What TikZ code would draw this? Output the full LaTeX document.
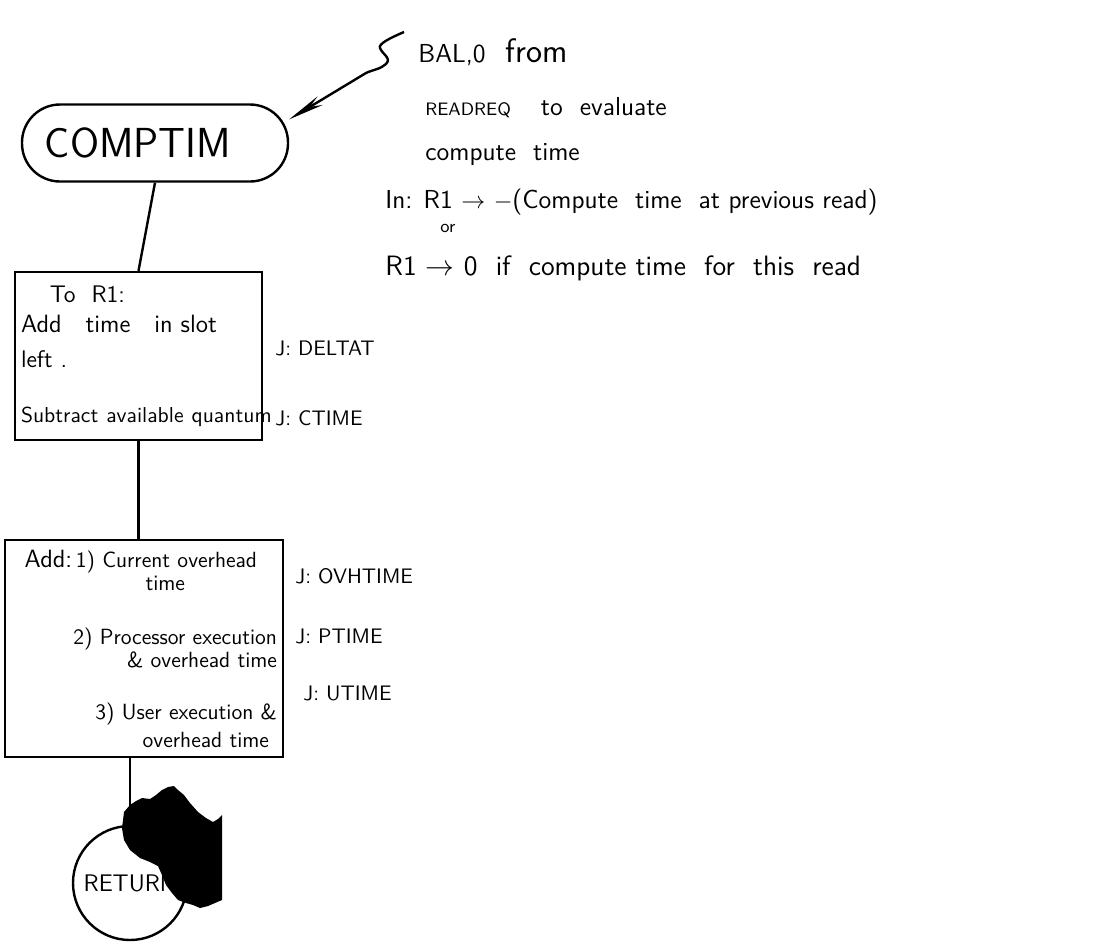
\documentclass[tikz,border=0pt]{standalone}
\usepackage{tikz}
\usetikzlibrary{arrows.meta,shapes,positioning}
\tikzset{
  basic/.style    = {draw, line width=1.2pt, font=\sffamily},
  terminal/.style = {basic, rectangle, rounded corners=19pt, minimum width=133pt,
                     minimum height=38.5pt, text width=110pt, inner xsep=11pt, align=left,
                     font=\sffamily\fontsize{21}{24}\selectfont},
  process/.style  = {basic, rectangle, inner xsep=3pt, inner ysep=0pt,
                     font=\sffamily\fontsize{12}{15}\selectfont},
  finish/.style   = {basic, circle, inner sep=1pt, minimum size=57pt,
                     font=\sffamily\fontsize{12}{14}\selectfont},
  jlabel/.style   = {anchor=base west, inner sep=0pt, font=\sffamily\fontsize{10.5}{12}\selectfont},
  remark/.style   = {anchor=base west, inner sep=0pt, font=\sffamily\fontsize{13}{15}\selectfont}
}

\begin{document}
\begin{tikzpicture}[x=0.5pt, y=-0.5pt]
\useasboundingbox (0,0) rectangle (1094,950);

% flow
\node[terminal] (comptim) at (155,143) {COMPTIM};
\node[process, minimum width=123.5pt, minimum height=84pt, text width=117.5pt, align=left]
  (slotbox) at (138.5,356)
  {\hspace*{1.2em}To\ \ R1:\\[0pt] \mbox{\fontsize{12.5}{15}\selectfont Add\ \ \ time\ \ \ in\ slot}\\[2.5pt] left\ .\\[12.5pt]
   \mbox{\fontsize{10.8}{15}\selectfont Subtract available quantum}};
\node[process, minimum width=139pt, minimum height=108.5pt, text width=133pt, align=right,
      font=\sffamily\fontsize{11}{11.5}\selectfont]
  (ovhbox) at (144,648.5)
  {{\fontsize{12.5}{11.5}\selectfont Add:}\,1) Current overhead\kern10pt\\ time\kern46pt\\[15.5pt]
   2) Processor execution\\ \& overhead time\\[14.5pt]
   3) User execution \&\\[2.5pt] overhead time\kern4pt};
\node[finish] (ret) at (130,883) {RETURN};

\draw[line width=1.2pt] (comptim.south) -- (slotbox.north);
\draw[line width=1.2pt] (slotbox.south) -- (slotbox.south |- ovhbox.north);
\draw[line width=1.2pt] (ret.north) -- (ret.north |- ovhbox.south);

% register labels
\node[jlabel] (deltat)  at (275,355) {J: DELTAT};
\node[jlabel] (ctime)   at (275,425) {J: CTIME};
\node[jlabel] (ovhtime) at (295,583) {J: OVHTIME};
\node[jlabel] (ptime)   at (295,643) {J: PTIME};
\node[jlabel] (utime)   at (303,700) {J: UTIME};

% call note
\node[remark] (note1) at (418,62) {{\fontsize{13}{14}\selectfont BAL,0}\hspace{10pt}{\fontsize{17}{18}\selectfont from}};
\node[remark] (note2) at (425,115) {{\fontsize{9}{11}\selectfont READREQ}\hspace{15pt}to\ \ evaluate};
\node[remark] (note3) at (425,160) {compute\ \ time};
\node[remark] (note4) at (385,208) {In: R1 $\rightarrow$ $-$(Compute\ \ time\ \ at previous read)};
\node[remark, font=\sffamily\fontsize{9}{11}\selectfont] (note5) at (440,232) {or};
\node[remark, font=\sffamily\fontsize{14}{16}\selectfont] (note6) at (385,275)
  {R1 $\rightarrow$ 0\ \ if\ \ compute time\ \ for\ \ this\ \ read};

\coordinate (squig) at (404,32);
\draw[line width=1.2pt, -{Stealth[length=18pt,width=5pt]}]
  (squig) .. controls (390,38) and (378,44) .. (380,48)
  .. controls (382,54) and (392,58) .. (386,64)
  .. controls (381,69) and (372,70) .. (366,73) -- (comptim.10);

% ink blot over the return circle
\fill[black] (124,812) -- (130,805) -- (136,801) -- (142,798) -- (150,799) -- (156,795)
  -- (162,790) -- (168,787) -- (174,786) -- (178,790) -- (184,795) -- (190,803)
  -- (198,812) -- (206,818) -- (213,822) -- (218,819) -- (222,815) -- (222,900)
  -- (215,903) -- (208,906) -- (200,908) -- (193,905) -- (186,903) -- (178,900)
  -- (172,893) -- (166,885) -- (162,875) -- (158,866) -- (150,862) -- (140,858)
  -- (130,850) -- (124,840) -- (122,828) -- cycle;
\end{tikzpicture}
\end{document}
